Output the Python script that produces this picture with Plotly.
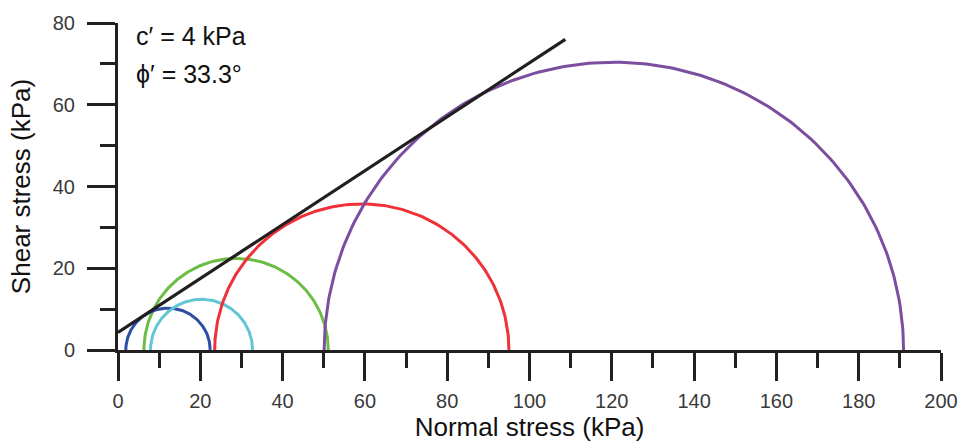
import numpy as np
import plotly.graph_objects as go

# Mohr circles: minor and major principal effective stresses (kPa)
circle_names = ["Test 1", "Test 2", "Test 3", "Test 4", "Test 5"]
sigma3 = [1.9, 7.9, 6.3, 23.5, 50.1]
sigma1 = [22.4, 32.7, 51.1, 95.0, 190.9]
circle_colors = ["#2b4ea6", "#62c6d4", "#6cbd45", "#ee3237", "#7b4ea0"]

# Failure envelope end points (kPa)
env_x = [0.0, 108.7]
env_y = [4.3, 76.0]

x_ticks = [0, 20, 40, 60, 80, 100, 120, 140, 160, 180, 200]
y_ticks = [0, 20, 40, 60, 80]

AX = "#231f20"
FONT = "Liberation Sans, Arial, sans-serif"

fig = go.Figure()

order = [2, 0, 1, 3, 4]
for i in order:
    c = (sigma1[i] + sigma3[i]) / 2
    r = (sigma1[i] - sigma3[i]) / 2
    t = np.linspace(0, np.pi, 200)
    fig.add_trace(go.Scatter(
        x=c + r * np.cos(t), y=r * np.sin(t), mode="lines",
        line=dict(color=circle_colors[i], width=3), name=circle_names[i],
        hoverinfo="skip", cliponaxis=False,
    ))

fig.add_trace(go.Scatter(
    x=env_x, y=env_y, mode="lines",
    line=dict(color=AX, width=3.2), name="Envelope", cliponaxis=False,
))

fig.add_annotation(x=0.02, xref="paper", y=0.96, yref="paper",
                   text="c\u2032 = 4 kPa", showarrow=False, xanchor="left", yanchor="middle",
                   font=dict(family=FONT, size=25, color="#111"))
fig.add_annotation(x=0.02, xref="paper", y=0.845, yref="paper",
                   text="\u03d5\u2032 = 33.3\u00b0", showarrow=False, xanchor="left", yanchor="middle",
                   font=dict(family=FONT, size=25, color="#111"))

fig.update_layout(
    width=970, height=448,
    margin=dict(l=118, r=18, t=16, b=98),
    plot_bgcolor="white", paper_bgcolor="white",
    showlegend=False,
    font=dict(family=FONT),
    xaxis=dict(
        range=[0, 200], tickvals=x_ticks, ticktext=[str(v) for v in x_ticks],
        showgrid=False, zeroline=False, showline=True, linecolor=AX, linewidth=3,
        ticks="outside", ticklen=28, tickwidth=3, tickcolor=AX,
        minor=dict(dtick=10, ticklen=15, tickwidth=3, tickcolor=AX, ticks="outside", showgrid=False),
        tickfont=dict(size=20, color="#3a3a3a", family=FONT),
        ticklabelstandoff=3,
        title=dict(text="Normal stress (kPa)", font=dict(size=26, color="#111", family=FONT), standoff=2),
    ),
    yaxis=dict(
        range=[0, 80], tickvals=y_ticks, ticktext=[str(v) for v in y_ticks],
        showgrid=False, zeroline=False, showline=True, linecolor=AX, linewidth=3,
        ticks="outside", ticklen=28, tickwidth=3, tickcolor=AX,
        minor=dict(dtick=10, ticklen=15, tickwidth=3, tickcolor=AX, ticks="outside", showgrid=False),
        tickfont=dict(size=20, color="#3a3a3a", family=FONT),
        ticklabelstandoff=8,
        title=dict(text="Shear stress (kPa)", font=dict(size=26, color="#111", family=FONT), standoff=15),
    ),
)

fig.write_html("out.html")
